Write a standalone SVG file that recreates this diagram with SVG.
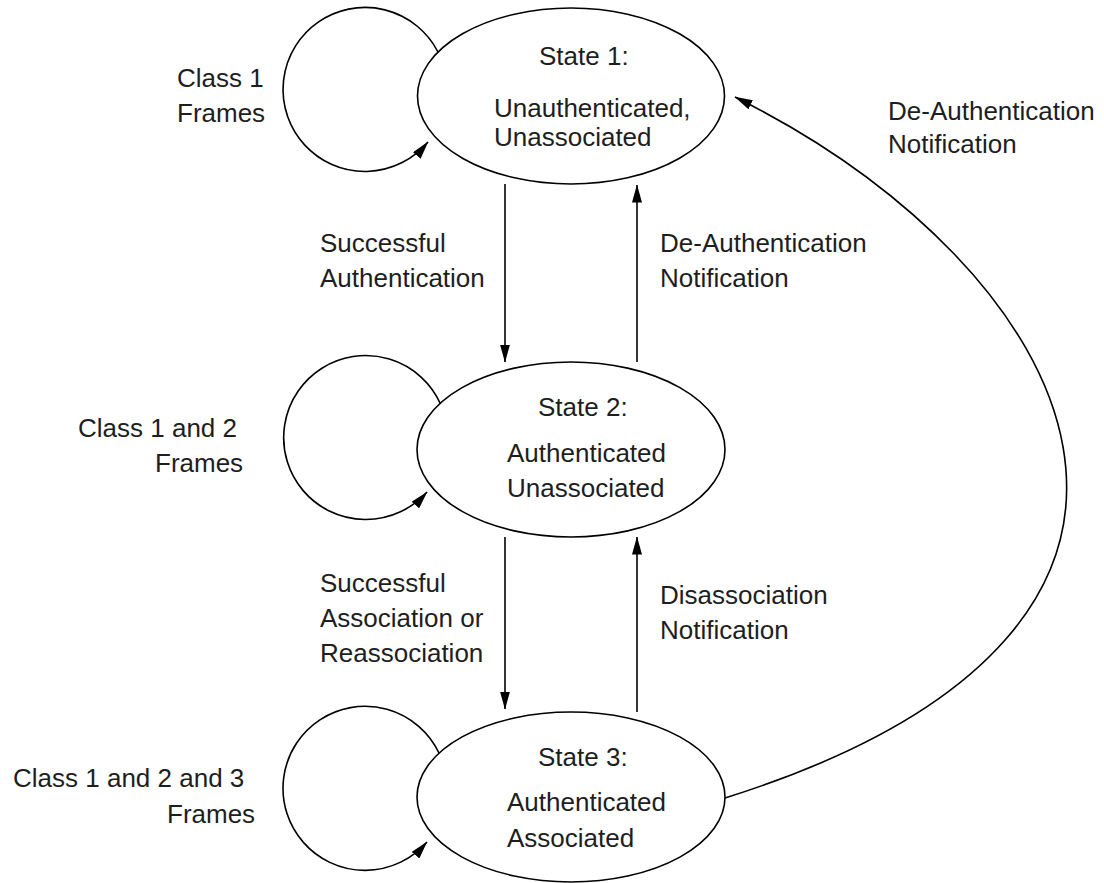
<svg xmlns="http://www.w3.org/2000/svg" width="1104" height="883" viewBox="0 0 1104 883">
  <style>
    .state { fill: #ffffff; stroke: #000000; stroke-width: 1.6; }
    .edge { fill: none; stroke: #000000; stroke-width: 1.6; }
    .lbl { font-family: "Liberation Sans", Arial, Helvetica, sans-serif; font-size: 26px; fill: #1e1e1e; }
  </style>
  <defs>
    <marker id="arrow" viewBox="0 0 18 10" refX="17.5" refY="5" markerWidth="18" markerHeight="10" orient="auto" markerUnits="userSpaceOnUse">
      <path d="M0,0 L18,5 L0,10 z" fill="#000000"/>
    </marker>
  </defs>

  <!-- transitions -->
  <g id="connectors">
    <!-- self loops -->
    <path class="edge" d="M438,52 A82,82 0 1 0 428,142" marker-end="url(#arrow)"/>
    <path class="edge" d="M440.5,404 A82,82 0 1 0 427,492" marker-end="url(#arrow)"/>
    <path class="edge" d="M439,753 A82,82 0 1 0 427,842" marker-end="url(#arrow)"/>
    <!-- state 1 <-> state 2 -->
    <line class="edge" x1="505" y1="184" x2="505" y2="362" marker-end="url(#arrow)"/>
    <line class="edge" x1="637" y1="362" x2="637" y2="185" marker-end="url(#arrow)"/>
    <!-- state 2 <-> state 3 -->
    <line class="edge" x1="505" y1="537" x2="505" y2="709" marker-end="url(#arrow)"/>
    <line class="edge" x1="637" y1="712" x2="637" y2="537" marker-end="url(#arrow)"/>
    <!-- state 3 -> state 1 -->
    <path class="edge" d="M725,798 C1272,626 1076,267 735,97" marker-end="url(#arrow)"/>
  </g>

  <g id="state1">
    <ellipse class="state" cx="571" cy="96" rx="153.5" ry="88"/>
    <text class="lbl" x="539" y="65">State 1:</text>
    <text class="lbl" x="494" y="117">Unauthenticated,</text>
    <text class="lbl" x="494" y="146">Unassociated</text>
  </g>

  <g id="state2">
    <ellipse class="state" cx="571" cy="449.5" rx="154" ry="87.5"/>
    <text class="lbl" x="538" y="416">State 2:</text>
    <text class="lbl" x="507" y="462">Authenticated</text>
    <text class="lbl" x="507" y="497">Unassociated</text>
  </g>

  <g id="state3">
    <ellipse class="state" cx="571" cy="797" rx="154" ry="85"/>
    <text class="lbl" x="538" y="766">State 3:</text>
    <text class="lbl" x="507" y="811">Authenticated</text>
    <text class="lbl" x="507" y="847">Associated</text>
  </g>

  <g id="labels">
    <text class="lbl" x="177" y="87">Class 1</text>
    <text class="lbl" x="177" y="122">Frames</text>
    <text class="lbl" x="78" y="437">Class 1 and 2</text>
    <text class="lbl" x="155" y="472">Frames</text>
    <text class="lbl" x="13" y="787">Class 1 and 2 and 3</text>
    <text class="lbl" x="167" y="823">Frames</text>

    <text class="lbl" x="320" y="252">Successful</text>
    <text class="lbl" x="320" y="287">Authentication</text>
    <text class="lbl" x="660" y="252">De-Authentication</text>
    <text class="lbl" x="660" y="287">Notification</text>

    <text class="lbl" x="320" y="592">Successful</text>
    <text class="lbl" x="320" y="627">Association or</text>
    <text class="lbl" x="320" y="662">Reassociation</text>
    <text class="lbl" x="660" y="604">Disassociation</text>
    <text class="lbl" x="660" y="639">Notification</text>

    <text class="lbl" x="888" y="120">De-Authentication</text>
    <text class="lbl" x="888" y="153">Notification</text>
  </g>
</svg>
